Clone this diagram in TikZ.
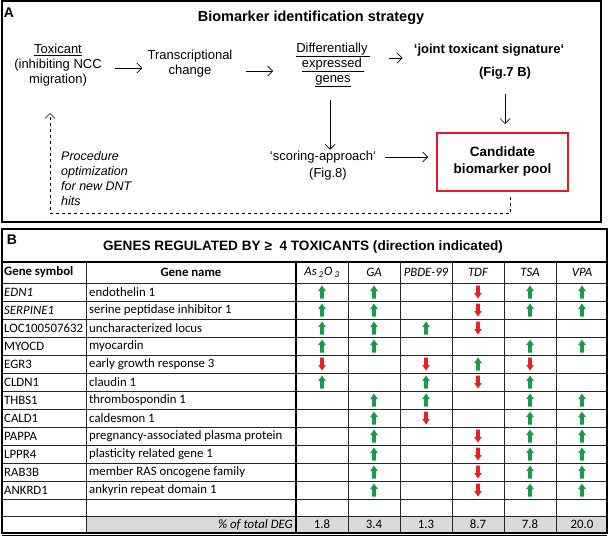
\documentclass[tikz,border=0pt]{standalone}
\usepackage{fontspec}
\setmainfont{Liberation Sans}
\newfontfamily\calibri{Carlito}
\usetikzlibrary{arrows.meta}
\usetikzlibrary{calc}

\definecolor{upgreen}{RGB}{24,156,76}
\definecolor{downred}{RGB}{234,30,36}
\definecolor{poolred}{RGB}{226,28,36}
\definecolor{totalgray}{RGB}{217,217,217}

\tikzset{
    pics/upmark/.style={code={
        \fill[upgreen] (-1.8pt,-6.5pt) -- (-1.8pt,1pt) -- (-3.8pt,1pt) -- (0pt,6.5pt)
            -- (3.8pt,1pt) -- (1.8pt,1pt) -- (1.8pt,-6.5pt) -- cycle;}},
    pics/downmark/.style={code={
        \fill[downred] (-1.8pt,6.5pt) -- (-1.8pt,-1pt) -- (-3.8pt,-1pt) -- (0pt,-6.5pt)
            -- (3.8pt,-1pt) -- (1.8pt,-1pt) -- (1.8pt,6.5pt) -- cycle;}}
}

\begin{document}
\begin{tikzpicture}[x=1pt, y=-1pt, >={Straight Barb[length=5pt,width=10pt]},
        arr/.style={->, line width=0.7pt},
        txt/.style={align=center, inner sep=1pt, font=\fontsize{13}{15}\selectfont},
        boldtxt/.style={align=center, inner sep=1pt, font=\bfseries\fontsize{13}{15}\selectfont},
        panel/.style={font=\bfseries\fontsize{14}{16}\selectfont, inner sep=0pt},
        pool/.style={draw=poolred, line width=2pt, minimum width=131pt, minimum height=58pt,
            align=center, font=\bfseries\fontsize{13.5}{17}\selectfont},
        grid/.style={line width=0.6pt, black!85},
        cell/.style={anchor=west, inner sep=0pt, font=\calibri\fontsize{12.8}{14}\selectfont},
        hdr/.style={inner sep=0pt, font=\calibri\itshape\fontsize{12.8}{14}\selectfont}]
    \useasboundingbox (0,0) rectangle (609,536);

    \draw[line width=1.2pt] (2,1) rectangle (601,222);
    \node[panel] (lblA) at (9,13) {A};
    \node[boldtxt, font=\bfseries\fontsize{14.5}{16}\selectfont] (strategy) at (311,18)
        {Biomarker identification strategy};

    \node[txt] (tox) at (58,65) {\underline{Toxicant}\\(inhibiting NCC\\migration)};
    \node[txt] (trans) at (190,64) {Transcriptional\\change};
    \node[txt] (genes) at (333,65)
        {\underline{Differentially\,}\\\underline{expressed\,}\\\underline{genes}};
    \node[boldtxt] (sig) at (489,50) {‘joint toxicant signature‘};
    \node[boldtxt] (fig7) at (505,73) {(Fig.7 B)};
    \node[txt] (score) at (323,157) {‘scoring-approach‘};
    \node[txt] (fig8) at (328,174) {(Fig.8)};
    \node[pool] (pool) at (502.5,162) {Candidate\\biomarker pool};
    \node[txt, anchor=north west, align=left, font=\itshape\fontsize{12.5}{15}\selectfont]
        (proc) at (60,150) {Procedure\\optimization\\for new DNT\\hits};

    \draw[arr, shorten <=12pt, shorten >=4pt] ([yshift=-3pt]tox.east) -- ([yshift=-3pt]tox.east -| trans.west);
    \draw[arr, shorten <=12pt, shorten >=22pt] ([yshift=-7pt]trans.east) -- ([yshift=-7pt]trans.east -| genes.west);
    \draw[arr, shorten <=18pt, shorten >=10pt] ([yshift=7pt]genes.east) -- ([yshift=7pt]genes.east -| sig.west);
    \draw[arr, shorten <=12pt] ([xshift=-3pt]genes.south) -- ([xshift=-3pt]genes.south |- score.north);
    \draw[arr, shorten <=14pt, shorten >=8pt] (fig7.south) -- (fig7.south |- pool.north);
    \draw[arr, shorten <=8pt, shorten >=8pt] (score.east) -- (score.east -| pool.west);
    \coordinate (back) at (50,213);
    \coordinate (redo) at (50,113);
    \draw[arr, dashed, line width=0.6pt] ([xshift=8pt,yshift=-5pt]pool.south) |- (back) -- (redo);

    \draw[line width=1.2pt] (2,229) rectangle (607,262);
    \node[panel] (lblB) at (12,240) {B};
    \node[boldtxt, font=\bfseries\fontsize{13.6}{15}\selectfont] (genestitle) at (303,247)
        {GENES REGULATED BY ≥ \ 4 TOXICANTS (direction indicated)};

    \fill[totalgray] (86,516) rectangle (607,533);
    \foreach \y in {283,301,...,499,516}
        \draw[grid] (2,\y) -- (607,\y);
    \foreach \x in {86,348,400,452,504,556}
        \draw[grid] (\x,262) -- (\x,533);
    \draw[line width=1.1pt] (296,262) -- (296,533);
    \draw[line width=1.5pt] (2,262) rectangle (607,533);
    \draw[line width=0.6pt] (2,535) -- (607,535);

    \node[cell, font=\calibri\bfseries\fontsize{12.8}{14}\selectfont] (hsym) at (4,272.5) {Gene symbol};
    \node[hdr, font=\calibri\bfseries\fontsize{12.8}{14}\selectfont] (hname) at (191,272.5) {Gene name};
    \foreach \t [count=\c] in {{As\,\textsubscript{2}O\,\textsubscript{3}},GA,PBDE-99,TDF,TSA,VPA}
        \node[hdr] (htox\c) at ({296+52*(\c-0.5)},272.5) {\t};

    \foreach \sym/\gname [count=\i] in {\textit{EDN1}/endothelin 1,
            \textit{SERPINE1}/serine peptidase inhibitor 1,
            LOC100507632/uncharacterized locus, MYOCD/myocardin,
            EGR3/early growth response 3, CLDN1/claudin 1,
            THBS1/thrombospondin 1, CALD1/caldesmon 1,
            PAPPA/pregnancy-associated plasma protein,
            LPPR4/plasticity related gene 1,
            RAB3B/member RAS oncogene family,
            ANKRD1/ankyrin repeat domain 1} {
        \node[cell] (sym\i) at (4,{283+18*(\i-0.5)}) {\sym};
        \node[cell] (name\i) at (89,{283+18*(\i-0.5)}) {\gname};
    }

    \foreach \c/\r in {1/1,2/1,5/1,6/1, 1/2,2/2,5/2,6/2, 1/3,2/3,3/3, 1/4,2/4,5/4,6/4,
            4/5, 1/6,3/6,5/6, 2/7,3/7,5/7,6/7, 2/8,5/8,6/8,
            2/9,5/9,6/9, 2/10,5/10,6/10, 2/11,5/11,6/11, 2/12,5/12,6/12}
        \pic at ({296+52*(\c-0.5)},{283+18*(\r-0.5)}) {upmark};
    \foreach \c/\r in {4/1, 4/2, 4/3, 1/5,3/5,5/5, 4/6, 3/8, 4/9, 4/10, 4/11, 4/12}
        \pic at ({296+52*(\c-0.5)},{283+18*(\r-0.5)}) {downmark};

    \node[cell, anchor=east, font=\calibri\itshape\fontsize{12.8}{14}\selectfont] (total) at (293,524.5) {\% of total DEG};
    \foreach \v [count=\c] in {1.8,3.4,1.3,8.7,7.8,20.0}
        \node[hdr, font=\calibri\fontsize{12.8}{14}\selectfont] (pct\c) at ({296+52*(\c-0.5)},524.5) {\v};
\end{tikzpicture}
\end{document}
